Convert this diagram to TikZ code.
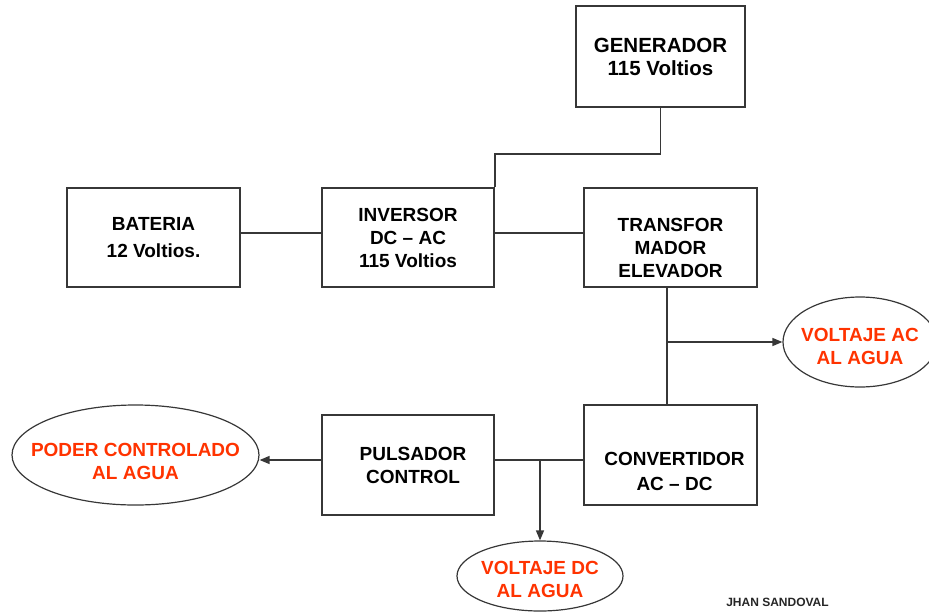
\documentclass[tikz,border=0pt]{standalone}
\usepackage{fontspec}
\setmainfont{Liberation Sans}
\usepackage{tikz}
\usetikzlibrary{arrows.meta}
\usetikzlibrary{shapes.geometric}
\definecolor{rojo}{RGB}{255,51,0}
\definecolor{linea}{RGB}{55,55,55}

\begin{document}
\begin{tikzpicture}[x=1pt,y=-1pt,
    >={Triangle[length=10pt,width=8pt]},
    caja/.style={draw=linea,line width=1.6pt,rectangle,align=center,
      font=\fontsize{19}{23}\selectfont\bfseries,inner sep=0pt},
    salida/.style={draw=linea,line width=1.2pt,ellipse,align=center,text=rojo,
      font=\fontsize{19}{23}\selectfont\bfseries,inner sep=-20pt},
    conexion/.style={draw=linea,line width=1.4pt}]
      \useasboundingbox (0,0) rectangle (929,611);
      % bloques
      \node[caja,minimum width=169pt,minimum height=101pt,font=\fontsize{20.5}{23}\selectfont\bfseries] (gen) at (660.5,56.5) {GENERADOR\\115 Voltios};
      \node[caja,minimum width=173pt,minimum height=99pt,font=\fontsize{19}{26.5}\selectfont\bfseries] (bat) at (153.5,237.5) {BATERIA\\12 Voltios.};
      \node[caja,minimum width=172pt,minimum height=99pt] (inv) at (408,237.5) {INVERSOR\\DC -- AC\\115 Voltios};
      \node[caja,minimum width=173pt,minimum height=99pt,text height=79.9pt] (tra) at (670.5,237.5) {TRANSFOR\\MADOR\\ELEVADOR};
      \node[caja,minimum width=173pt,minimum height=100pt,text height=70.9pt,font=\fontsize{19}{25}\selectfont\bfseries] (conv) at (670.5,455) {\hspace{8pt}CONVERTIDOR\\\hspace{8pt}AC -- DC};
      \node[caja,minimum width=172pt,minimum height=100pt] (puls) at (408,465) {\hspace{10pt}PULSADOR\\\hspace{10pt}CONTROL};
      % salidas
      \node[salida,minimum width=247pt,minimum height=100pt,text height=48.9pt] (poder) at (135.5,455) {PODER CONTROLADO\\AL AGUA};
      \node[salida,minimum width=154pt,minimum height=90pt,text height=45.9pt] (vac) at (860,342) {VOLTAJE AC\\AL AGUA};
      \node[salida,minimum width=166pt,minimum height=70pt,text height=43.9pt] (vdc) at (540,576) {VOLTAJE DC\\AL AGUA};
      \node[font=\fontsize{12}{14}\selectfont\bfseries,text=black!85] (autor) at (777.5,602) {JHAN SANDOVAL};
      % conexiones
      \coordinate (fila) at (0,233);
      \coordinate (acjoin) at (667,342);
      \coordinate (dcjoin) at (540,460);
      \draw[conexion] (gen.south) -- ++(0,46) -| (inv.north east);
      \draw[conexion] (bat.east |- fila) -- (inv.west |- fila);
      \draw[conexion] (inv.east |- fila) -- (tra.west |- fila);
      \draw[conexion] (tra.south -| acjoin) -- (conv.north -| acjoin);
      \draw[conexion,->] (acjoin) -- (vac.west);
      \draw[conexion] (puls.east |- dcjoin) -- (conv.west |- dcjoin);
      \draw[conexion,->] (dcjoin) -- (vdc.north);
      \draw[conexion,->] (puls.west |- dcjoin) -- (poder.east |- dcjoin);
    \end{tikzpicture}
\end{document}
